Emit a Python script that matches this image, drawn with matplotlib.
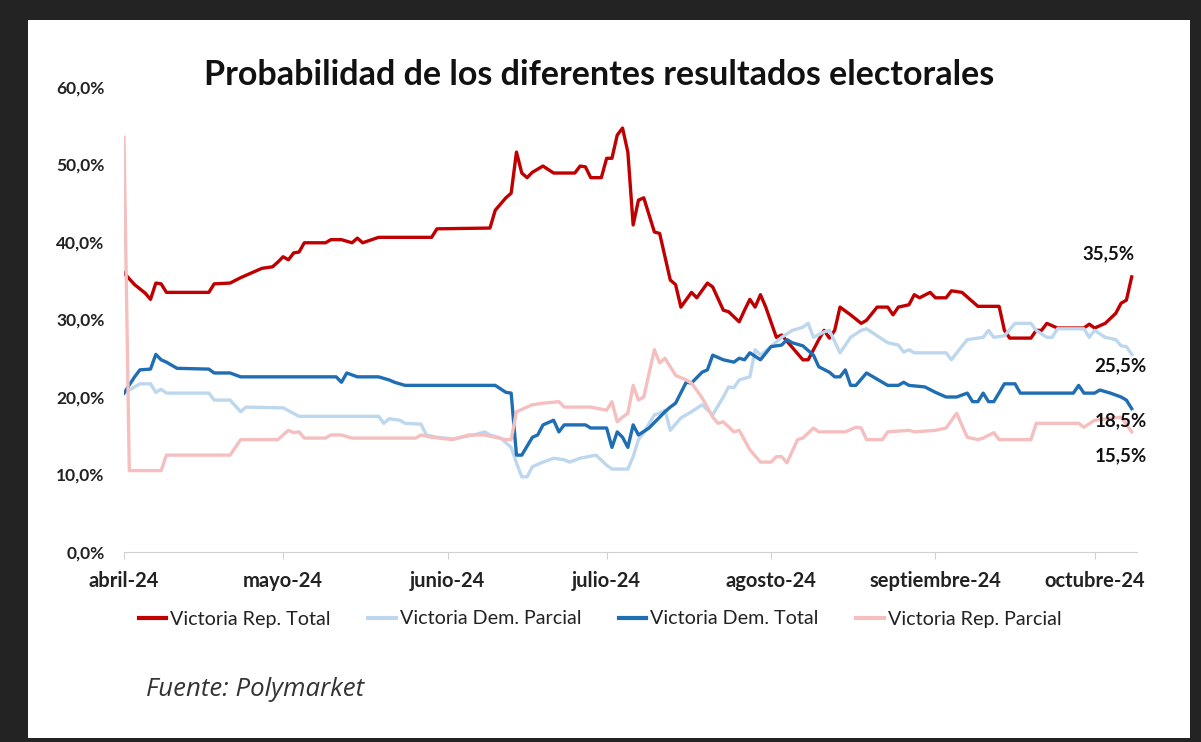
import pandas as pd
import matplotlib.pyplot as plt
from matplotlib.patches import Rectangle
from matplotlib.font_manager import FontProperties

# days counted from 1 April 2024, values in %
rep_total_days = [0, 2, 4, 5, 6, 7, 8, 16, 17, 20, 22, 24, 26, 28, 29, 30, 31, 32, 33, 34, 38, 39, 41, 43, 44, 45,
                  48, 58, 59, 69, 70, 72, 73, 74, 75, 76, 77, 79, 81, 85, 86, 87, 88, 90, 91, 92, 93, 94, 95, 96,
                  97, 98, 100, 101, 103, 104, 105, 107, 108, 110, 111, 113, 114, 116, 117, 118, 119, 120, 121,
                  123, 124, 128, 129, 131, 132, 133, 134, 135, 137, 139, 140, 142, 144, 145, 146, 148, 149, 150,
                  152, 153, 155, 156, 158, 159, 161, 165, 166, 167, 171, 172, 173, 174, 176, 181, 182, 183, 185,
                  187, 188, 189, 190]
rep_total = [36.0, 34.5, 33.4, 32.6, 34.7, 34.6, 33.5, 33.5, 34.6, 34.7, 35.4, 36.0, 36.6, 36.8, 37.4, 38.1, 37.7,
             38.6, 38.7, 39.9, 39.9, 40.3, 40.3, 39.9, 40.5, 39.9, 40.6, 40.6, 41.7, 41.8, 44.1, 45.7, 46.3, 51.6,
             48.9, 48.3, 49.0, 49.8, 48.9, 48.9, 49.8, 49.7, 48.3, 48.3, 50.8, 50.8, 53.8, 54.7, 51.6, 42.2, 45.4,
             45.7, 41.3, 41.1, 35.1, 34.5, 31.6, 33.5, 32.8, 34.7, 34.2, 31.2, 31.0, 29.7, 31.2, 32.6, 31.6, 33.2,
             31.6, 27.7, 28.0, 24.8, 24.8, 27.4, 28.6, 27.6, 28.6, 31.6, 30.6, 29.5, 29.9, 31.6, 31.6, 30.6, 31.6,
             31.9, 33.2, 32.8, 33.5, 32.8, 32.8, 33.7, 33.5, 32.9, 31.7, 31.7, 28.6, 27.6, 27.6, 28.6, 28.6, 29.5,
             28.9, 28.9, 29.4, 28.9, 29.5, 30.8, 32.1, 32.5, 35.5]

dem_parcial_days = [0, 3, 5, 6, 7, 8, 16, 17, 20, 22, 23, 30, 33, 48, 49, 50, 52, 53, 56, 57, 59, 62, 66, 68, 69,
                    71, 73, 74, 75, 76, 77, 79, 81, 83, 84, 86, 89, 91, 92, 95, 96, 97, 98, 100, 101, 102, 103,
                    105, 107, 109, 111, 113, 114, 115, 116, 118, 119, 120, 122, 124, 126, 128, 129, 130, 132, 133,
                    135, 137, 139, 140, 142, 144, 146, 147, 148, 149, 155, 156, 157, 159, 162, 163, 164, 166, 168,
                    171, 172, 174, 175, 176, 181, 182, 183, 185, 187, 188, 189, 190]
dem_parcial = [20.5, 21.7, 21.7, 20.6, 21.0, 20.5, 20.5, 19.6, 19.6, 18.1, 18.7, 18.6, 17.5, 17.5, 16.6, 17.2, 17.0,
               16.6, 16.5, 15.1, 14.8, 14.6, 15.1, 15.5, 15.1, 14.7, 13.5, 11.5, 9.7, 9.7, 11.0, 11.6, 12.1, 11.9,
               11.6, 12.1, 12.5, 11.2, 10.7, 10.7, 12.3, 14.5, 15.4, 17.7, 17.9, 18.3, 15.7, 17.3, 18.1, 19.0, 17.7,
               20.0, 21.3, 21.2, 22.2, 22.6, 26.1, 25.4, 26.5, 27.7, 28.6, 29.0, 29.5, 27.7, 28.4, 28.6, 25.7, 27.7,
               28.6, 28.8, 27.9, 27.0, 26.7, 25.8, 26.1, 25.7, 25.7, 24.8, 25.7, 27.4, 27.7, 28.6, 27.7, 27.9, 29.5,
               29.5, 28.6, 27.7, 27.7, 28.8, 28.8, 27.7, 28.6, 27.7, 27.4, 26.6, 26.5, 25.5]

dem_total_days = [0, 2, 3, 5, 6, 7, 8, 10, 16, 17, 20, 22, 40, 41, 42, 44, 48, 50, 51, 53, 70, 72, 73, 74, 75, 77,
                  78, 79, 81, 82, 83, 87, 88, 91, 92, 93, 94, 95, 96, 97, 99, 102, 103, 104, 106, 107, 109, 110,
                  111, 113, 115, 116, 117, 118, 120, 122, 124, 125, 126, 128, 130, 131, 133, 134, 135, 136, 137,
                  138, 140, 143, 144, 146, 147, 148, 151, 153, 155, 157, 159, 160, 161, 162, 163, 164, 166, 168,
                  169, 179, 180, 181, 183, 184, 186, 188, 189, 190]
dem_total = [20.5, 22.6, 23.5, 23.6, 25.5, 24.8, 24.5, 23.7, 23.6, 23.1, 23.1, 22.6, 22.6, 21.9, 23.1, 22.6, 22.6,
             22.2, 21.9, 21.5, 21.5, 20.6, 20.5, 12.5, 12.5, 14.8, 15.1, 16.4, 17.0, 15.5, 16.4, 16.4, 16.0, 16.0,
             13.5, 15.5, 14.8, 13.5, 16.4, 15.1, 16.0, 18.1, 18.7, 19.2, 21.9, 21.8, 23.2, 23.5, 25.4, 24.8, 24.5,
             25.0, 24.8, 25.7, 24.8, 26.5, 26.7, 27.4, 27.0, 26.6, 25.4, 23.9, 23.2, 22.6, 22.6, 23.5, 21.5, 21.5,
             23.1, 21.9, 21.5, 21.5, 21.9, 21.5, 21.3, 20.6, 20.0, 20.0, 20.5, 19.4, 19.4, 20.5, 19.4, 19.4, 21.7,
             21.7, 20.5, 20.5, 21.5, 20.5, 20.5, 20.9, 20.5, 20.0, 19.6, 18.5]

rep_parcial_days = [0, 1, 7, 8, 20, 22, 29, 31, 32, 33, 34, 38, 39, 41, 43, 55, 56, 58, 62, 65, 68, 72, 73, 74, 77,
                    79, 82, 83, 88, 91, 92, 93, 94, 95, 96, 97, 98, 100, 101, 102, 103, 104, 106, 107, 109, 111,
                    112, 113, 115, 116, 118, 120, 122, 123, 124, 125, 127, 128, 130, 131, 136, 138, 139, 140, 143,
                    144, 148, 149, 153, 155, 157, 159, 161, 162, 164, 165, 171, 172, 180, 181, 183, 188, 190]
rep_parcial = [53.5, 10.5, 10.5, 12.5, 12.5, 14.5, 14.5, 15.7, 15.4, 15.5, 14.7, 14.7, 15.1, 15.1, 14.7, 14.7, 15.1,
               14.8, 14.5, 15.1, 15.1, 14.5, 14.5, 18.1, 19.0, 19.2, 19.4, 18.7, 18.7, 18.3, 19.4, 16.8, 17.4, 17.9,
               21.5, 19.6, 20.0, 26.1, 24.4, 25.0, 23.9, 22.8, 22.2, 21.8, 19.9, 17.4, 16.6, 16.8, 15.5, 15.7, 13.2,
               11.6, 11.6, 12.3, 12.3, 11.5, 14.5, 14.7, 16.0, 15.5, 15.5, 16.1, 16.0, 14.5, 14.5, 15.5, 15.7, 15.5,
               15.7, 16.0, 17.9, 14.8, 14.5, 14.7, 15.4, 14.5, 14.5, 16.6, 16.6, 16.1, 17.0, 17.4, 15.5]

month_labels = ["abril-24", "mayo-24", "junio-24", "julio-24", "agosto-24", "septiembre-24", "octubre-24"]
end_labels = ["35,5%", "25,5%", "18,5%", "15,5%"]

FONT = "Lato"
base = pd.Timestamp("2024-04-01")


def to_dates(days):
    return base + pd.to_timedelta(days, unit="D")


fig = plt.figure(figsize=(12.01, 7.42), dpi=100)
fig.patch.set_facecolor("#232323")
fig.patches.append(Rectangle((28 / 1201, 1 - 738 / 742), (1190 - 28) / 1201, (738 - 20) / 742,
                             transform=fig.transFigure, facecolor="white", edgecolor="none", zorder=-5))

ax = fig.add_axes([124 / 1201, 1 - 552 / 742, (1137 - 124) / 1201, (552 - 87) / 742])
ax.set_facecolor("none")

series = [
    (rep_total_days, rep_total, "#C00000", "Victoria Rep. Total"),
    (dem_parcial_days, dem_parcial, "#BDD7EE", "Victoria Dem. Parcial"),
    (dem_total_days, dem_total, "#1F6EB4", "Victoria Dem. Total"),
    (rep_parcial_days, rep_parcial, "#F6BFBF", "Victoria Rep. Parcial"),
]
for days, vals, color, name in series:
    ax.plot(to_dates(days), vals, color=color, lw=2.4, label=name, solid_joinstyle="round")

ax.set_ylim(0, 60)
ax.set_xlim(base, base + pd.Timedelta(days=191))
ax.set_yticks(range(0, 61, 10))
ax.set_yticklabels([f"{v},0%" for v in range(0, 61, 10)], fontfamily=FONT, fontweight="bold",
                   fontsize=12.5, color="#222222")
ticks = pd.date_range("2024-04-01", "2024-10-01", freq="MS")
ax.set_xticks(ticks)
ax.set_xticklabels(month_labels, fontfamily=FONT, fontweight="bold", fontsize=14.5, color="#222222")
ax.tick_params(axis="y", length=0, pad=14)
ax.tick_params(axis="x", length=5, color="#d0d0d0", pad=9)
for s in ["top", "right", "left"]:
    ax.spines[s].set_visible(False)
ax.spines["bottom"].set_color("#d0d0d0")

# end-of-series value labels
bold = FontProperties(family=FONT, weight="bold", size=13.5)
last_day = base + pd.Timedelta(days=190)
for text, vals, offset in [(end_labels[0], rep_total, (-17, 17)), (end_labels[1], dem_parcial, (-8, -8)),
                           (end_labels[2], dem_total, (-8, -9)), (end_labels[3], rep_parcial, (-8, -17))]:
    ax.annotate(text, (last_day, vals[-1]), xytext=offset, textcoords="offset points",
                ha="center", va="center", fontproperties=bold, color="#111111")

fig.text(599 / 1201, 1 - 75 / 742, "Probabilidad de los diferentes resultados electorales",
         ha="center", va="center", fontfamily=FONT, fontweight="bold", fontsize=24.5, color="#111111")

leg = fig.legend(loc="center", bbox_to_anchor=(600 / 1201, 1 - 619 / 742), ncol=4, frameon=False,
                 prop={"family": FONT, "size": 14.2}, handlelength=1.4, handletextpad=0.2, columnspacing=1.9)
for t in leg.get_texts():
    t.set_color("#222222")
for line in leg.get_lines():
    line.set_linewidth(3)

fig.text(146 / 1201, 1 - 690 / 742, "Fuente: Polymarket", ha="left", va="center", fontfamily="Open Sans",
         fontstyle="italic", fontsize=18.5, color="#333333")

fig.savefig("out.png", dpi=100, facecolor=fig.get_facecolor())
